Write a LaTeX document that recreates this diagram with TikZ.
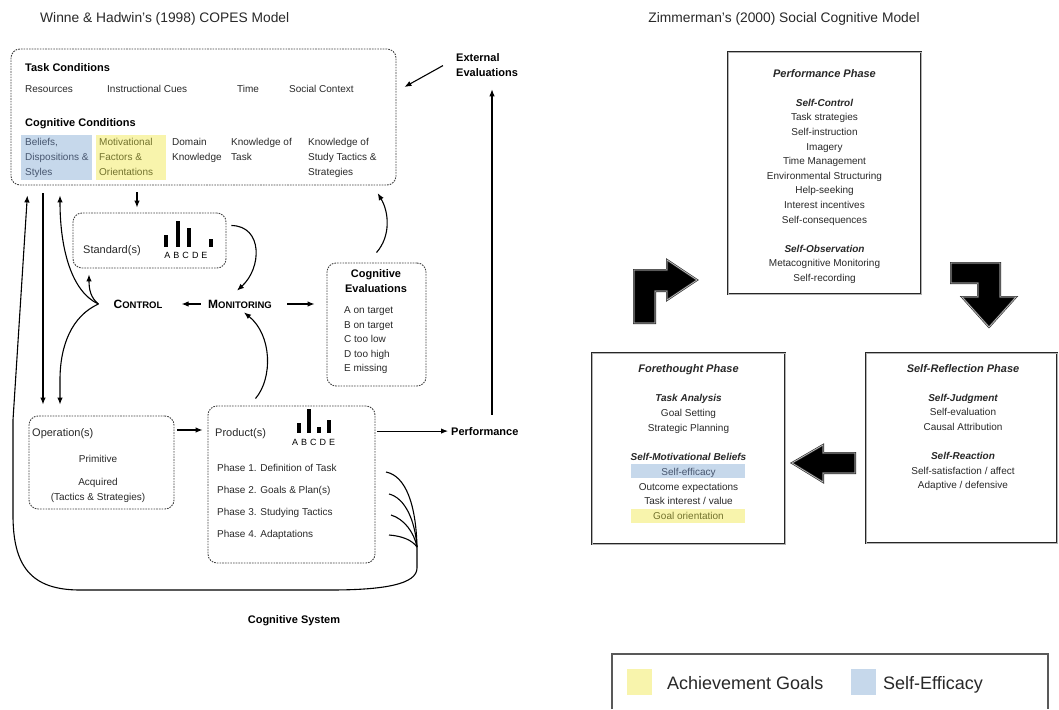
\documentclass[tikz,border=0pt]{standalone}
\usepackage{fontspec}
\setmainfont{Liberation Sans}
\usetikzlibrary{arrows.meta}
\definecolor{hlblue}{RGB}{198,216,235}
\definecolor{hlyellow}{RGB}{248,244,172}
\definecolor{txt}{RGB}{40,40,40}
\definecolor{bluetxt}{RGB}{70,85,110}
\definecolor{yeltxt}{RGB}{115,115,45}
\begin{document}
\begin{tikzpicture}[x=1pt,y=-1pt,
  dbox/.style={draw=black!75, line width=0.9pt, dash pattern=on 1.6pt off 1.1pt, rounded corners=9pt, inner sep=0pt},
  conn/.style={line width=1.1pt, -{Latex[length=7pt,width=5.5pt]}},
  plain/.style={draw=black, line width=1.1pt},
  t10/.style={font=\fontsize{10}{15}\selectfont, text=txt, inner sep=0pt},
  t11/.style={font=\fontsize{11}{14}\selectfont, text=txt, inner sep=0pt},
  b11/.style={font=\fontsize{11}{15}\selectfont\bfseries, inner sep=0pt},
  sc/.style={font=\bfseries, inner sep=0pt},
  phasebox/.style={draw=black!85, line width=0.7pt, double=gray!60, double distance=0.9pt, inner sep=0pt},
  blockarrow/.style={fill=black, draw=black!85, line width=0.6pt, double=gray!55, double distance=0.8pt, line join=miter},
  bars/.style={fill=black},
]
\useasboundingbox (0,0) rectangle (1059,709);

% ---------------- Titles
\node[anchor=base west, font=\fontsize{13.8}{16}\selectfont, text=txt, inner sep=0pt] (title1) at (40,23) {Winne \& Hadwin's (1998) COPES Model};
\node[anchor=base, font=\fontsize{13.8}{16}\selectfont, text=txt, inner sep=0pt] (title2) at (784,23) {Zimmerman's (2000) Social Cognitive Model};

% ---------------- COPES: top box
\node[dbox, minimum width=385pt, minimum height=136pt] (tc) at (203.5,117) {};
\fill[hlblue] (21,135) rectangle (92,180);
\fill[hlyellow] (96,135) rectangle (166,180);
\node[b11, anchor=base west] (tch) at (25,71) {Task Conditions};
\node[t10, anchor=base west] (res) at (25,92.5) {Resources};
\node[t10, anchor=base west] (icue) at (107,92.5) {Instructional Cues};
\node[t10, anchor=base west] (time) at (237,92.5) {Time};
\node[t10, anchor=base west] (soc) at (289,92.5) {Social Context};
\node[b11, anchor=base west] (cch) at (25,126) {Cognitive Conditions};
% multi-line nodes: base anchor = baseline of the last line
\node[t10, anchor=base west, align=left, text=bluetxt] (bel) at (25,175.5) {Beliefs,\\Dispositions \&\\Styles};
\node[t10, anchor=base west, align=left, text=yeltxt] (mot) at (99,175.5) {Motivational\\Factors \&\\Orientations};
\node[t10, anchor=base west, align=left] (dom) at (172,160.5) {Domain\\Knowledge};
\node[t10, anchor=base west, align=left] (kt) at (231,160.5) {Knowledge of\\Task};
\node[t10, anchor=base west, align=left] (kst) at (308,175.5) {Knowledge of\\Study Tactics \&\\Strategies};

% External evaluations
\node[b11, anchor=base west, align=left] (ext) at (456,77) {External\\Evaluations};

% Standards box
\node[dbox, minimum width=153pt, minimum height=55pt] (std) at (149.5,240.5) {};
\node[t11, anchor=base west] (stdl) at (83,253) {Standard(s)};
\fill[bars] (163.8,247) rectangle (168.3,235);
\fill[bars] (175.8,247) rectangle (180.3,221);
\fill[bars] (186.8,247) rectangle (191.3,228);
\fill[bars] (208.8,247) rectangle (213.3,239);
\node[anchor=base, font=\fontsize{9}{10}\selectfont, inner sep=0pt] (stdabc) at (186,258.5) {A\hspace{3pt}B\hspace{3pt}C\hspace{3pt}D\hspace{3pt}E};

% Control / Monitoring
\node[sc] (ctrl) at (138,304) {{\fontsize{12}{14}\selectfont C}{\fontsize{9.5}{14}\selectfont ONTROL}};
\node[sc] (mon) at (240,304) {{\fontsize{12}{14}\selectfont M}{\fontsize{9.5}{14}\selectfont ONITORING}};

% Cognitive evaluations
\node[dbox, minimum width=99pt, minimum height=123pt] (ce) at (376.5,324.5) {};
\node[b11, anchor=base, align=center] (ceh) at (376,292) {Cognitive\\Evaluations};
\node[t10, anchor=base west, align=left, font=\fontsize{10}{14.5}\selectfont] (cel) at (344,371.5) {A on target\\B on target\\C too low\\D too high\\E missing};

% Operations
\node[dbox, minimum width=145pt, minimum height=93pt] (op) at (101.5,462.5) {};
\node[t11, anchor=base west] (opl) at (32,436) {Operation(s)};
\node[t10, anchor=base] (prim) at (98,462.5) {Primitive};
\node[t10, anchor=base, align=center] (acq) at (98,500.5) {Acquired\\(Tactics \& Strategies)};

% Products
\node[dbox, minimum width=167pt, minimum height=157pt] (pr) at (291.5,484.5) {};
\node[t11, anchor=base west] (prl) at (215,436) {Product(s)};
\fill[bars] (296.8,433) rectangle (301.3,423);
\fill[bars] (306.8,433) rectangle (311.3,409);
\fill[bars] (316.8,433) rectangle (321.3,427);
\fill[bars] (326.8,433) rectangle (331.3,420);
\node[anchor=base, font=\fontsize{9}{10}\selectfont, inner sep=0pt] (prabc) at (313.5,445.5) {A\hspace{3pt}B\hspace{3pt}C\hspace{3pt}D\hspace{3pt}E};
\node[t10, anchor=base west, align=left, font=\fontsize{10}{22}\selectfont] (phs) at (217,537.5) {Phase 1. Definition of Task\\Phase 2. Goals \& Plan(s)\\Phase 3. Studying Tactics\\Phase 4. Adaptations};

\node[b11, anchor=base west] (perf) at (451,435) {Performance};
\node[b11, anchor=base] (cs) at (294,623) {Cognitive System};

% ---------------- COPES connectors
\draw[conn, shorten <=7pt, shorten >=5pt] (137,0 |- tc.south) -- (137,0 |- std.north);
\draw[conn] ([shift={(5pt,15pt)}]std.east) .. controls (263,226) and (262,268) .. ([shift={(-3pt,9pt)}]mon.north);
\draw[conn, shorten <=7pt, shorten >=19pt] (mon.west) -- (ctrl.east);
\draw[conn, shorten <=15pt, shorten >=12pt] (mon.east) -- (ce.west |- mon.east);
\draw[conn, shorten >=9pt] ([yshift=10pt]ce.north) .. controls (391,236) and (389,212) .. (373,0 |- tc.south);
\draw[conn] ([shift={(-36pt,7pt)}]pr.north) .. controls (273,378) and (272,335) .. ([shift={(4pt,-4pt)}]mon.south);
\draw[conn, shorten <=3pt, shorten >=5pt] (op.east |- 0,430) -- (pr.west |- 0,430);
\draw[conn, shorten <=2pt, shorten >=3pt] (pr.east |- perf.west) -- (perf.west);
\draw[conn, shorten <=12pt, shorten >=12pt] (492,0 |- perf.north) -- (492,0 |- ext.south);
\draw[conn] ([xshift=-13pt]ext.west) -- ([shift={(8pt,30pt)}]tc.east);
\draw[conn, shorten <=8pt, shorten >=11pt] (43,0 |- tc.south) -- (43,0 |- op.north);

% control fan
\coordinate (cf) at ([xshift=-15pt]ctrl.west);
\draw[conn, shorten >=10pt] (cf) .. controls (72,292) and (60,250) .. (60,0 |- tc.south);
\draw[conn, shorten >=6pt] (cf) .. controls (91,298) and (89,290) .. (89,0 |- std.south);
\draw[conn, shorten >=11pt] (cf) .. controls (72,316) and (60,345) .. (60,380) -- (60,0 |- op.north);

% feedback loop from phases
\coordinate (m) at (417,547);
\coordinate (f1) at (386,472);
\coordinate (f2) at (389,494);
\coordinate (f3) at (391,515);
\coordinate (f4) at (389,535);
\draw[plain] (f1) .. controls (406,476) and (416,505) .. (m);
\draw[plain] (f2) .. controls (405,498) and (415,520) .. (m);
\draw[plain] (f3) .. controls (404,519) and (414,532) .. (m);
\draw[plain] (f4) .. controls (402,536) and (412,540) .. (m);
\draw[conn, shorten >=10pt] (m) -- (417,568) .. controls (417,584) and (385,590) .. (330,590) -- (80,590) .. controls (30,590) and (13,565) .. (13,515) -- (13,420) -- (28,0 |- tc.south);

% ---------------- Zimmerman
\node[phasebox, minimum width=193pt, minimum height=242pt] (pp) at (824.5,173) {};
\node[t10, anchor=base, align=center, font=\fontsize{10}{14.6}\selectfont] (ppt) at (824.5,281.4) {{\fontsize{11}{14.6}\selectfont\bfseries\itshape Performance Phase}\\[14.6pt]
{\bfseries\itshape Self-Control}\\Task strategies\\Self-instruction\\Imagery\\Time Management\\Environmental Structuring\\Help-seeking\\Interest incentives\\Self-consequences\\[14.6pt]
{\bfseries\itshape Self-Observation}\\Metacognitive Monitoring\\Self-recording};

\node[phasebox, minimum width=193pt, minimum height=191pt] (fp) at (688.5,448.5) {};
\fill[hlblue] (631,464) rectangle (745,478);
\fill[hlyellow] (631,509) rectangle (745,523);
\node[t10, anchor=base, align=center, font=\fontsize{10}{14.75}\selectfont] (fpt) at (688.5,519.5) {{\fontsize{11}{14.75}\selectfont\bfseries\itshape Forethought Phase}\\[14.75pt]
{\bfseries\itshape Task Analysis}\\Goal Setting\\Strategic Planning\\[14.75pt]
{\bfseries\itshape Self-Motivational Beliefs}\\{\color{bluetxt}Self-efficacy}\\Outcome expectations\\Task interest / value\\{\color{yeltxt}Goal orientation}};

\node[phasebox, minimum width=191pt, minimum height=190pt] (sr) at (961.5,448) {};
\node[t10, anchor=base, align=center, font=\fontsize{10}{14.6}\selectfont] (srt) at (963,488.8) {{\fontsize{11}{14.6}\selectfont\bfseries\itshape Self-Reflection Phase}\\[14.6pt]
{\bfseries\itshape Self-Judgment}\\Self-evaluation\\Causal Attribution\\[14.6pt]
{\bfseries\itshape Self-Reaction}\\Self-satisfaction / affect\\Adaptive / defensive};

% block arrows
\draw[blockarrow] (634,323) -- (634,270) -- (667,270) -- (667,260) -- (697,280) -- (667,300) -- (667,291) -- (655,291) -- (655,323) -- cycle;
\draw[blockarrow] (951,263) -- (1000,263) -- (1000,297) -- (1016,297) -- (989,327) -- (962,297) -- (978,297) -- (978,283) -- (951,283) -- cycle;
\draw[blockarrow] (855,453) -- (823,453) -- (823,445) -- (792,463) -- (823,482) -- (823,473) -- (855,473) -- cycle;

% legend
\draw[draw=black!65, line width=1.2pt] (612,709) -- (612,654) -- (1048,654) -- (1048,709);
\fill[hlyellow] (627,669) rectangle (652,695);
\node[anchor=base west, font=\fontsize{18}{20}\selectfont, text=txt, inner sep=0pt] (lg1) at (667,689.5) {Achievement Goals};
\fill[hlblue] (851,669) rectangle (876,695);
\node[anchor=base west, font=\fontsize{18}{20}\selectfont, text=txt, inner sep=0pt] (lg2) at (883,689.5) {Self-Efficacy};
\end{tikzpicture}
\end{document}
